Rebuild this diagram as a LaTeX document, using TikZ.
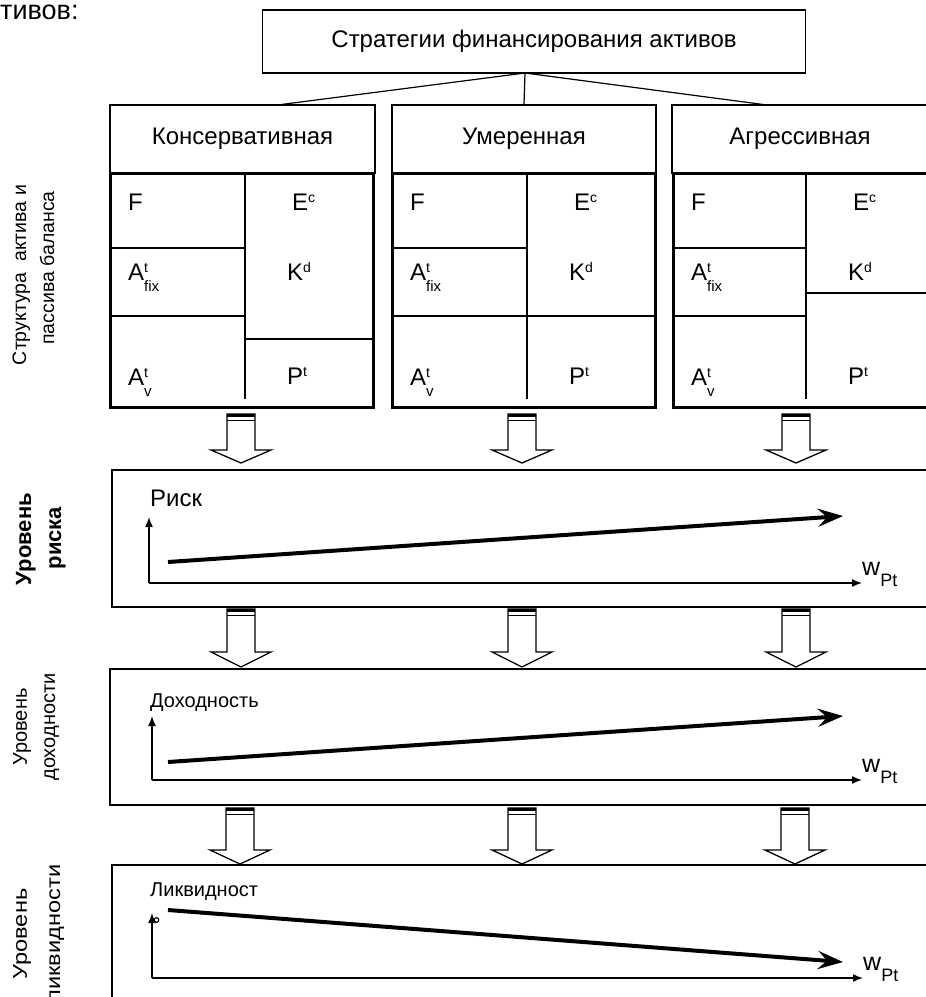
\documentclass[tikz,border=0pt]{standalone}
\usepackage{fontspec}
\setmainfont{Liberation Sans}
\usetikzlibrary{arrows.meta,calc}
\newcommand{\fs}[1]{\fontsize{#1}{#1}\selectfont}
\newcommand{\SupSub}[3]{#1\makebox[0pt][l]{\raisebox{8pt}{\fs{14}#2}}\raisebox{-11pt}{\fs{15}#3}}
\newcommand{\Sup}[2]{#1\raisebox{8pt}{\fs{14}#2}}
\newcommand{\WPt}{w\raisebox{-11pt}{\fs{18}Pt}}
% block arrow: centre x, top, head base, tip
\newcommand{\BlockArrow}[4]{%
  \draw[line width=1.3pt, fill=white] ({#1-14},#2) -- ({#1+14},#2) -- ({#1+14},#3) -- ({#1+30},#3) -- (#1,#4) -- ({#1-30},#3) -- ({#1-14},#3) -- cycle;
  \fill ({#1-14},#2) rectangle ({#1+14},{#2+3});
  \draw[line width=1pt] ({#1-14},{#2+6}) -- ({#1+14},{#2+6});}
% balance table: left, divider, right, y of right split line
\newcommand{\BalTable}[4]{%
  \draw[thinline] (#1,248) -- (#2,248);
  \draw[thinline] (#1,316) -- (#2,316);
  \draw[thinline] (#2,173) -- (#2,399);
  \draw[thinline] (#2,#4) -- (#3,#4);
  \draw[tablebox] (#1,173) rectangle (#3,407);
  \node[cell] at ({#1+18},210) {F};
  \node[cell] at ({#2+47},210) {\Sup{E}{c}};
  \node[cell] at ({#2+42},280) {\Sup{K}{d}};
  \node[cell] at ({#1+18},280) {\SupSub{A}{t}{fix}};
  \node[cell] at ({#1+18},385) {\SupSub{A}{t}{v}};
  \node[cell] at ({#2+42},384) {\Sup{P}{t}};}
\tikzset{
  box/.style={draw, line width=1.2pt, inner sep=0pt},
  tablebox/.style={line width=3pt},
  thinline/.style={line width=1.5pt},
  cell/.style={anchor=base west, inner sep=0pt, font=\fs{24}},
  panel/.style={line width=1.5pt},
  axis/.style={line width=1.5pt, -{Latex[length=10pt,width=8pt]}},
  trend/.style={line width=4pt, -{Stealth[length=25pt,width=18pt,inset=9pt]}},
  sidelabel/.style={rotate=90, anchor=base, inner sep=0pt},
}
\begin{document}
\begin{tikzpicture}[x=1pt,y=-1pt]
\useasboundingbox (0,0) rectangle (926,997);
\clip (0,0) rectangle (926,997);
\fill[white] (0,0) rectangle (926,997);

\node[anchor=base west, inner sep=0pt, font=\fs{27}] (frag) at (0,19) {тивов:};

% top box
\node[box, minimum width=543pt, minimum height=63pt, font=\fs{24}] (top) at (534,41.5) {Стратегии финансирования активов};
\coordinate (apex) at (525,73);

% headers
\node[box, minimum width=265pt, minimum height=68pt, font=\fs{24}] (h1) at (242.5,139) {Консервативная};
\node[box, minimum width=264pt, minimum height=68pt, font=\fs{24}] (h2) at (524,139) {Умеренная};
\draw[line width=1.2pt] (940,105) -- (672,105) -- (672,173) -- (940,173);
\node[font=\fs{24}] (h3) at (800,139) {Агрессивная};
\coordinate (h1top) at ($(h1.north)+(39.5,0)$);
\coordinate (h3top) at (767,105);
\draw[line width=1.2pt] (apex) -- (h1top);
\draw[line width=1.2pt] (apex) -- (h2.north);
\draw[line width=1.2pt] (apex) -- (h3top);

% tables
\BalTable{110}{245}{373}{339}
\BalTable{392}{527}{655}{316}
\BalTable{673}{806}{945}{293}

% side labels
\node[sidelabel, font=\fs{19.5}] (s1) at (26,275) {Структура~ актива и};
\node[sidelabel, font=\fs{19.5}] (s2) at (54,268) {пассива баланса};
\node[sidelabel, font={\fs{22}\bfseries}] (r1) at (31,539) {Уровень};
\node[sidelabel, font={\fs{22}\bfseries}] (r2) at (61,538) {риска};
\node[sidelabel, font=\fs{20}] (d1) at (27,727) {Уровень};
\node[sidelabel, font=\fs{20}] (d2) at (55,727) {доходности};
\node[sidelabel, font=\fs{20}] (l1) at (27,934) {\scalebox{1.18}[1]{Уровень}};
\node[sidelabel, font=\fs{20}] (l2) at (60,934) {\scalebox{1.18}[1]{ликвидности}};

% arrows row 1
\BlockArrow{241}{414}{450}{463}
\BlockArrow{522}{414}{450}{463}
\BlockArrow{796}{414}{450}{463}

% risk panel
\draw[panel] (945,470) -- (112,470) -- (112,607) -- (945,607);
\node[anchor=base west, inner sep=0pt, font=\fs{24}] (risk) at (150,506) {Риск};
\coordinate (ro) at (149,583);
\coordinate (ry) at (149,517);
\coordinate (rx) at (862,583);
\draw[axis] (ro) -- (ry);
\draw[axis] (ro) -- (rx);
\coordinate (rs) at (168,562);
\coordinate (re) at (843,516);
\draw[trend] (rs) -- (re);
\node[anchor=base west, inner sep=0pt, font=\fs{25}] (rw) at (862,575) {\WPt};

% arrows row 2
\BlockArrow{241}{609}{652}{667}
\BlockArrow{522}{609}{652}{667}
\BlockArrow{796}{609}{652}{667}

% profitability panel
\draw[panel] (945,669) -- (110,669) -- (110,805) -- (945,805);
\node[anchor=base west, inner sep=0pt, font=\fs{20}] (dox) at (150,707) {Доходность};
\coordinate (do) at (152,780);
\coordinate (dy) at (152,716);
\coordinate (dx) at (862,780);
\draw[axis] (do) -- (dy);
\draw[axis] (do) -- (dx);
\coordinate (ds) at (168,762);
\coordinate (de) at (843,716);
\draw[trend] (ds) -- (de);
\node[anchor=base west, inner sep=0pt, font=\fs{25}] (dw) at (862,772) {\WPt};

% arrows row 3
\BlockArrow{240}{808}{850}{864}
\BlockArrow{522}{808}{850}{864}
\BlockArrow{795}{808}{850}{864}

% liquidity panel
\draw[panel] (945,865) -- (112,865) -- (112,1010);
\node[anchor=base west, inner sep=0pt, font=\fs{20}] (liq) at (150,896) {Ликвидност};
\coordinate (lo) at (152,978);
\coordinate (ly) at (152,913);
\coordinate (lx) at (863,978);
\draw[axis] (lo) -- (ly);
\draw[axis] (lo) -- (lx);
\draw[line width=1.2pt] (156.5,920) circle (2.3pt);
\coordinate (ls) at (168,910);
\coordinate (le) at (843,962);
\draw[trend] (ls) -- (le);
\node[anchor=base west, inner sep=0pt, font=\fs{25}] (lw) at (863,970) {\WPt};
\end{tikzpicture}
\end{document}
